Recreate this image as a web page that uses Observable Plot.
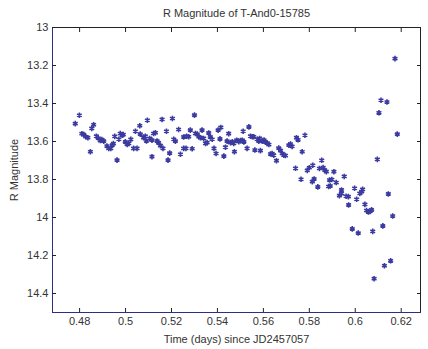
<!DOCTYPE html>
<html>
<head>
<meta charset="utf-8">
<script src="https://cdn.jsdelivr.net/npm/d3@7"></script>
<script src="https://cdn.jsdelivr.net/npm/@observablehq/plot@0.6"></script>
<style>
  html, body { margin: 0; padding: 0; background: #fff; }
  #chart svg { display: block; }
</style>
</head>
<body>
<div id="chart"></div>
<script>
// Observed time (days since JD2457057)
const time = [
  0.4781, 0.4799, 0.4810, 0.4818, 0.4827, 0.4836, 0.4847, 0.4853, 0.4861, 0.4873,
  0.4881, 0.4890, 0.4897, 0.4905, 0.4919, 0.4927, 0.4936, 0.4942, 0.4947, 0.4953,
  0.4963, 0.4971, 0.4977, 0.4985, 0.4990, 0.4999, 0.5007, 0.5014, 0.5023, 0.5035,
  0.5050, 0.5043, 0.5062, 0.5064, 0.5078, 0.5086, 0.5091, 0.5095, 0.5105, 0.5115,
  0.5115, 0.5122, 0.5130, 0.5137, 0.5144, 0.5152, 0.5159, 0.5163, 0.5178, 0.5185,
  0.5192, 0.5204, 0.5210, 0.5217, 0.5231, 0.5239, 0.5253, 0.5253, 0.5263, 0.5266,
  0.5275, 0.5282, 0.5290, 0.5300, 0.5304, 0.5312, 0.5319, 0.5326, 0.5333, 0.5340,
  0.5348, 0.5355, 0.5362, 0.5369, 0.5377, 0.5385, 0.5394, 0.5403, 0.5415, 0.5411,
  0.5428, 0.5435, 0.5442, 0.5449, 0.5457, 0.5465, 0.5471, 0.5474, 0.5484, 0.5493,
  0.5500, 0.5508, 0.5515, 0.5512, 0.5529, 0.5537, 0.5544, 0.5552, 0.5558, 0.5563,
  0.5573, 0.5580, 0.5584, 0.5587, 0.5595, 0.5603, 0.5609, 0.5617, 0.5624, 0.5631,
  0.5638, 0.5645, 0.5657, 0.5667, 0.5675, 0.5682, 0.5689, 0.5696, 0.5711, 0.5718,
  0.5725, 0.5740, 0.5744, 0.5751, 0.5764, 0.5769, 0.5781, 0.5791, 0.5800, 0.5815,
  0.5813, 0.5821, 0.5837, 0.5844, 0.5854, 0.5860, 0.5867, 0.5874, 0.5884, 0.5891,
  0.5888, 0.5898, 0.5907, 0.5917, 0.5931, 0.5940, 0.5940, 0.5952, 0.5960, 0.5970,
  0.5971, 0.5987, 0.5997, 0.6006, 0.6013, 0.6020, 0.6028, 0.6032, 0.6042, 0.6049,
  0.6057, 0.6064, 0.6071, 0.6076, 0.6082, 0.6096, 0.6103, 0.6112, 0.6138, 0.6120,
  0.6127, 0.6144, 0.6154, 0.6163, 0.6173, 0.6183
];
// R magnitude
const rMag = [
  13.506, 13.462, 13.559, 13.564, 13.575, 13.580, 13.654, 13.531, 13.512, 13.572,
  13.582, 13.595, 13.590, 13.598, 13.624, 13.637, 13.636, 13.619, 13.611, 13.573,
  13.698, 13.588, 13.558, 13.567, 13.564, 13.602, 13.615, 13.610, 13.589, 13.636,
  13.636, 13.546, 13.517, 13.561, 13.580, 13.572, 13.597, 13.488, 13.584, 13.593,
  13.680, 13.558, 13.554, 13.597, 13.607, 13.622, 13.484, 13.636, 13.546, 13.698,
  13.661, 13.479, 13.588, 13.598, 13.537, 13.667, 13.576, 13.636, 13.636, 13.572,
  13.575, 13.540, 13.638, 13.461, 13.558, 13.561, 13.575, 13.580, 13.540, 13.584,
  13.610, 13.606, 13.555, 13.576, 13.588, 13.636, 13.663, 13.540, 13.526, 13.586,
  13.677, 13.630, 13.598, 13.559, 13.606, 13.602, 13.610, 13.654, 13.593, 13.601,
  13.595, 13.593, 13.602, 13.546, 13.636, 13.523, 13.572, 13.575, 13.575, 13.645,
  13.588, 13.598, 13.584, 13.648, 13.598, 13.592, 13.602, 13.609, 13.616, 13.666,
  13.663, 13.672, 13.701, 13.635, 13.648, 13.663, 13.672, 13.674, 13.619, 13.613,
  13.626, 13.741, 13.580, 13.591, 13.799, 13.654, 13.567, 13.752, 13.738, 13.725,
  13.811, 13.797, 13.839, 13.742, 13.699, 13.737, 13.750, 13.759, 13.837, 13.834,
  13.803, 13.800, 13.759, 13.816, 13.885, 13.874, 13.855, 13.784, 13.888, 13.890,
  13.934, 14.060, 13.846, 13.904, 14.082, 13.873, 13.864, 13.852, 13.931, 13.963,
  13.971, 13.968, 13.960, 14.073, 14.322, 13.694, 13.449, 13.383, 13.392, 14.044,
  14.254, 13.876, 14.228, 13.992, 13.164, 13.561
];
const xTicks = [0.48, 0.5, 0.52, 0.54, 0.56, 0.58, 0.6, 0.62];
const yTicks = [13, 13.2, 13.4, 13.6, 13.8, 14, 14.2, 14.4];
const xDomain = [0.4682, 0.6284];
const yDomain = [13, 14.5];
const titleText = "R Magnitude of T-And0-15785";
const xLabel = "Time (days) since JD2457057";
const yLabel = "R Magnitude";

const data = time.map((t, i) => ({t, m: rMag[i]}));
const fmt = d => String(+d.toFixed(2));
const blank = () => "";

const chart = Plot.plot({
  width: 428,
  height: 349,
  marginLeft: 52,
  marginRight: 8,
  marginTop: 27,
  marginBottom: 37,
  style: {fontFamily: "'Liberation Sans', Arial, sans-serif", fontSize: "11px", color: "#333", background: "#fff"},
  x: {domain: xDomain},
  y: {domain: yDomain, reverse: true},
  marks: [
    Plot.frame({anchor: "top", stroke: "#222"}),
    Plot.frame({anchor: "right", stroke: "#222"}),
    Plot.frame({anchor: "left", stroke: "#2e2e86"}),
    Plot.frame({anchor: "bottom", stroke: "#2e2e86"}),
    Plot.axisX({anchor: "bottom", ticks: xTicks, tickSize: -4, tickPadding: 9, tickFormat: fmt,
      label: xLabel, labelAnchor: "center", labelArrow: "none", labelOffset: 30, stroke: "#222"}),
    Plot.axisX({anchor: "top", ticks: xTicks, tickSize: -4, tickFormat: blank, label: null, stroke: "#222"}),
    Plot.axisY({anchor: "left", ticks: yTicks, tickSize: -4, tickPadding: 8, tickFormat: fmt,
      label: yLabel, labelAnchor: "center", labelArrow: "none", labelOffset: 42, stroke: "#222"}),
    Plot.axisY({anchor: "right", ticks: yTicks, tickSize: -4, tickFormat: blank, label: null, stroke: "#222"}),
    Plot.text([titleText], {frameAnchor: "top", lineAnchor: "middle", dy: -14, fontSize: 11, fill: "#333"}),
    Plot.dot(data, {x: "t", y: "m", symbol: "asterisk", r: 2.6, stroke: "#3a3aa0", strokeWidth: 1.6})
  ]
});
document.getElementById("chart").appendChild(chart);
</script>
</body>
</html>
